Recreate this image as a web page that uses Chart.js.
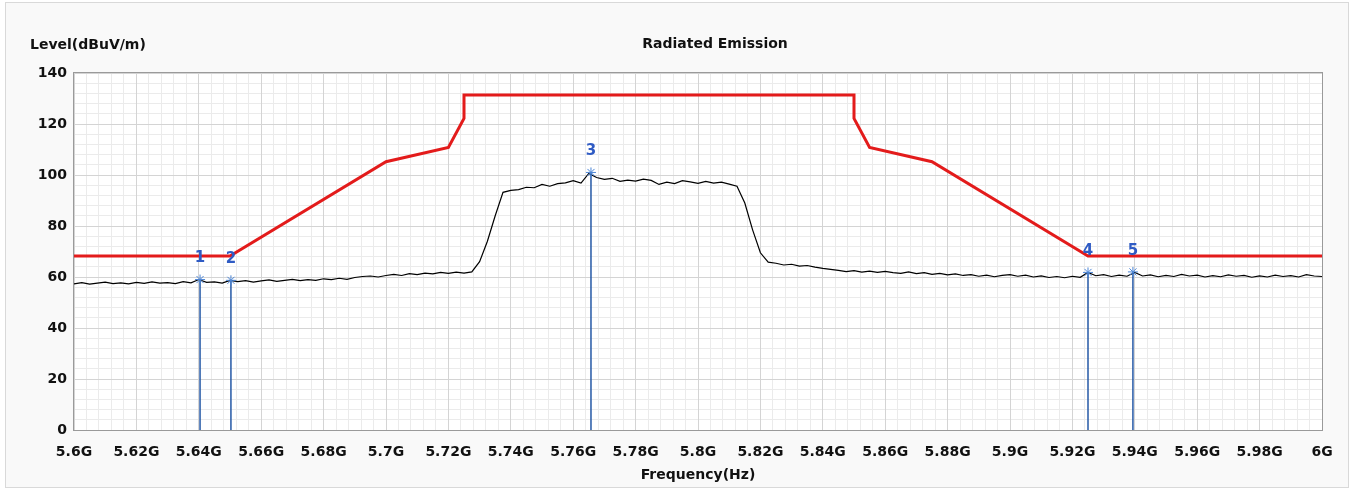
<!DOCTYPE html>
<html lang="en">
<head>
<meta charset="UTF-8">
<title>Radiated Emission</title>
<script src="https://cdn.jsdelivr.net/npm/chart.js"></script>
<style>
    body, html { margin: 0; height: 100%; background: #fff; }
    #frame { position: absolute; left: 5px; top: 2px; width: 1342px; height: 484px; border: 1px solid #d9d9d9; background: #f9f9f9; }
    canvas { position: absolute; left: 0; top: 0; }
</style>
</head>
<body>
<div id="frame"></div>
<canvas id="reChart" width="1357" height="488"></canvas>
<script>
    // sweep: 5600 MHz .. 6000 MHz, 2.5 MHz per point
    const sweepStartMHz = 5600;
    const sweepStepMHz = 2.5;

    const traceLevel = [
        57.3, 57.8, 57.2, 57.6, 58.0, 57.4, 57.7, 57.3, 57.9, 57.5, 58.1, 57.6, 57.8, 57.4, 58.2, 57.7, 59.0, 57.9, 58.1, 57.6, 58.7,
        58.2, 58.6, 58.0, 58.5, 58.9, 58.3, 58.7, 59.1, 58.6, 59.0, 58.7, 59.3, 59.0, 59.5, 59.1, 59.8, 60.2, 60.4, 60.0, 60.6,
        61.0, 60.6, 61.3, 60.9, 61.5, 61.2, 61.8, 61.4, 61.9, 61.5, 62.0,
        66.0, 74.0, 84.0, 93.2, 94.0, 94.3, 95.2, 95.0, 96.3,
        95.6, 96.6, 96.9, 97.8, 96.8, 100.6, 99.0, 98.3, 98.7, 97.5,
        98.0, 97.6, 98.4, 97.9, 96.3, 97.2, 96.6, 97.8, 97.3, 96.7,
        97.5, 96.8, 97.2, 96.4, 95.6, 89.0, 78.5, 69.5, 65.8, 65.4,
        64.7, 65.0, 64.3, 64.5, 63.9, 63.4, 63.0, 62.6, 62.1, 62.5,
        61.9, 62.3, 61.8, 62.2, 61.7, 61.4, 62.0, 61.3, 61.7, 61.0,
        61.4, 60.8, 61.2, 60.6, 60.9, 60.3, 60.7, 60.1, 60.6, 60.9,
        60.3, 60.7, 60.0, 60.4, 59.8, 60.2, 59.7, 60.3, 59.9, 61.8,
        60.5, 60.9, 60.2, 60.7, 60.3, 61.8, 60.4, 60.8, 60.1, 60.6,
        60.2, 61.0, 60.4, 60.7, 60.0, 60.5, 60.1, 60.8, 60.3, 60.6,
        59.9, 60.4, 60.0, 60.7, 60.2, 60.5, 60.0, 60.9, 60.4, 60.2
    ];

    const limitFreq = [5600, 5650, 5700, 5720, 5725, 5725, 5850, 5850, 5855, 5875, 5925, 6000];
    const limitLevel = [68.2, 68.2, 105.2, 110.8, 122.2, 131.4, 131.4, 122.2, 110.8, 105.2, 68.2, 68.2];

    const markerNames = ['1', '2', '3', '4', '5'];
    const markerFreq = [5640.4, 5650.3, 5765.7, 5925.0, 5939.4];
    const markerLevel = [59.0, 58.7, 101.0, 61.8, 62.0];

    const xTickLabels = ['5.6G', '5.62G', '5.64G', '5.66G', '5.68G', '5.7G', '5.72G', '5.74G', '5.76G', '5.78G', '5.8G',
        '5.82G', '5.84G', '5.86G', '5.88G', '5.9G', '5.92G', '5.94G', '5.96G', '5.98G', '6G'];
    const yTickLabels = ['0', '20', '40', '60', '80', '100', '120', '140'];

    const FONT = 'DejaVu Sans';
    const markerBlue = '#2458a6';

    const tracePoints = traceLevel.map((v, i) => ({ x: sweepStartMHz + i * sweepStepMHz, y: v }));
    const limitPoints = limitFreq.map((f, i) => ({ x: f, y: limitLevel[i] }));

    const markerLineSets = markerFreq.map((f, i) => ({
        data: [{ x: f, y: 0 }, { x: f, y: markerLevel[i] }],
        borderColor: markerBlue,
        borderWidth: 1.5,
        pointRadius: 0
    }));

    const minorColor = ctx => (ctx.index % 5 === 0 ? 'rgba(0,0,0,0)' : '#ebebeb');

    const plotFrame = {
        id: 'plotFrame',
        beforeDraw(chart) {
            const { ctx, chartArea: a } = chart;
            ctx.save();
            ctx.fillStyle = '#ffffff';
            ctx.fillRect(a.left, a.top, a.right - a.left, a.bottom - a.top);
            ctx.restore();
        },
        afterDraw(chart) {
            const { ctx, chartArea: a } = chart;
            ctx.save();
            ctx.strokeStyle = '#9a9a9a';
            ctx.lineWidth = 1;
            ctx.strokeRect(a.left - 0.5, a.top - 0.5, a.right - a.left + 1, a.bottom - a.top + 1);
            ctx.fillStyle = '#111';
            ctx.font = 'bold 14px "' + FONT + '"';
            ctx.textBaseline = 'middle';
            ctx.textAlign = 'left';
            ctx.fillText('Level(dBuV/m)', 30, 45);
            ctx.textAlign = 'center';
            ctx.fillText('Radiated Emission', 715, 44);
            ctx.restore();
        },
        afterDatasetsDraw(chart) {
            const { ctx, scales } = chart;
            ctx.save();
            ctx.fillStyle = '#2f5bc4';
            ctx.font = 'bold 15px "' + FONT + '"';
            ctx.textAlign = 'center';
            ctx.textBaseline = 'middle';
            markerNames.forEach((n, i) => {
                const x = scales.x.getPixelForValue(markerFreq[i]);
                const y = scales.y.getPixelForValue(markerLevel[i]);
                ctx.fillText(n, x, y - 21);
            });
            ctx.restore();
        }
    };

    new Chart(document.getElementById('reChart').getContext('2d'), {
        type: 'line',
        data: {
            datasets: [
                {
                    data: markerFreq.map((f, i) => ({ x: f, y: markerLevel[i] })),
                    showLine: false,
                    pointStyle: 'star',
                    pointRadius: 5,
                    pointBorderWidth: 1,
                    pointBorderColor: '#4d86d6',
                    pointBackgroundColor: '#4d86d6'
                },
                ...markerLineSets,
                {
                    data: tracePoints,
                    borderColor: '#000000',
                    borderWidth: 1.2,
                    pointRadius: 0
                },
                {
                    data: limitPoints,
                    borderColor: '#e31b1b',
                    borderWidth: 3,
                    pointRadius: 0
                }
            ]
        },
        options: {
            responsive: false,
            animation: false,
            layout: { padding: { left: 0, right: 35, top: 73, bottom: 0 } },
            plugins: { legend: { display: false }, tooltip: { enabled: false } },
            scales: {
                xMinor: {
                    type: 'linear', position: 'bottom', min: 5600, max: 6000,
                    ticks: { display: false, stepSize: 4 },
                    grid: { color: minorColor, drawTicks: false },
                    border: { display: false },
                    afterFit: s => { s.height = 0; }
                },
                yMinor: {
                    type: 'linear', position: 'left', min: 0, max: 140,
                    ticks: { display: false, stepSize: 4 },
                    grid: { color: minorColor, drawTicks: false },
                    border: { display: false },
                    afterFit: s => { s.width = 0; }
                },
                x: {
                    type: 'linear', position: 'bottom', min: 5600, max: 6000,
                    ticks: {
                        stepSize: 20, autoSkip: false, maxRotation: 0, padding: 14,
                        color: '#111', font: { family: FONT, size: 14, weight: 'bold' },
                        callback: (v, i) => xTickLabels[i]
                    },
                    grid: { color: '#d4d4d4', drawTicks: false },
                    border: { display: false },
                    title: {
                        display: true, text: 'Frequency(Hz)', color: '#111',
                        font: { family: FONT, size: 14, weight: 'bold' },
                        padding: { top: 0, bottom: 4 }
                    },
                    afterFit: s => { s.height = 58; }
                },
                y: {
                    type: 'linear', position: 'left', min: 0, max: 140,
                    ticks: {
                        stepSize: 20, padding: 7,
                        color: '#111', font: { family: FONT, size: 14, weight: 'bold' },
                        callback: (v, i) => yTickLabels[i]
                    },
                    grid: { color: '#d4d4d4', drawTicks: false },
                    border: { display: false },
                    afterFit: s => { s.width = 74; }
                }
            }
        },
        plugins: [plotFrame]
    });
</script>
</body>
</html>
